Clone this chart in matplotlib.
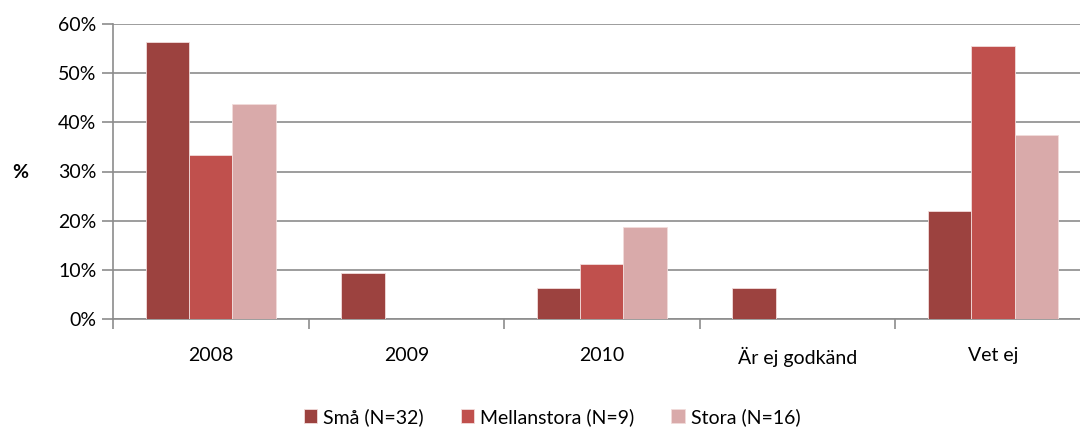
import numpy as np
from matplotlib import pyplot as plt

categories = ["2008", "2009", "2010", "Är ej godkänd", "Vet ej"]
sma = [56.25, 9.375, 6.25, 6.25, 21.875]
mellan = [33.3, 0, 11.1, 0, 55.6]
stora = [43.75, 0, 18.75, 0, 37.5]
series = [("Små (N=32)", sma, "#9c423f"),
          ("Mellanstora (N=9)", mellan, "#c0504d"),
          ("Stora (N=16)", stora, "#d9aaaa")]

plt.rcParams['font.family'] = ['Lato', 'DejaVu Sans']

fig = plt.figure(figsize=(10.8, 4.3), dpi=100)
ax = fig.add_axes([113/1080, 1 - 319/430, 967/1080, (319 - 24)/430])

x = np.arange(len(categories))
w = 0.222
for i, (name, vals, col) in enumerate(series):
    ax.bar(x + (i - 1) * w, vals, w, color=col, edgecolor="#f2dcdb", linewidth=0.6,
           label=name, zorder=3)

ax.set_ylim(0, 60)
ax.set_xlim(-0.5, 4.446)
ax.set_yticks(range(0, 61, 10))
ax.set_yticklabels([f"{v}%" for v in range(0, 61, 10)], fontsize=14)
ax.yaxis.grid(True, color="#8c8c8c", linewidth=1.2, zorder=0)

ax.set_xticks(x)
ax.set_xticklabels(categories, fontsize=14)
ax.tick_params(axis="x", length=0, pad=20)
ax.set_xticks(np.arange(-0.5, 4.5, 1), minor=True)
ax.tick_params(axis="x", which="minor", length=7, color="#8c8c8c", width=1.2)
ax.tick_params(axis="y", length=8, color="#8c8c8c", width=1.2, pad=4)

for s in ["top", "right"]:
    ax.spines[s].set_visible(False)
ax.spines["left"].set_color("#8c8c8c")
ax.spines["bottom"].set_color("#8c8c8c")
ax.spines["left"].set_linewidth(1.2)
ax.spines["bottom"].set_linewidth(1.2)

fig.text(20/1080, 1 - 172/430, "%", fontsize=14, fontweight="bold", ha="center", va="center")

fig.legend(loc="center", bbox_to_anchor=(552/1080, 1 - 417/430), ncol=3, frameon=False,
           fontsize=14, handlelength=0.7, handleheight=0.7, handletextpad=0.3, columnspacing=1.9)

plt.savefig("out.png")
